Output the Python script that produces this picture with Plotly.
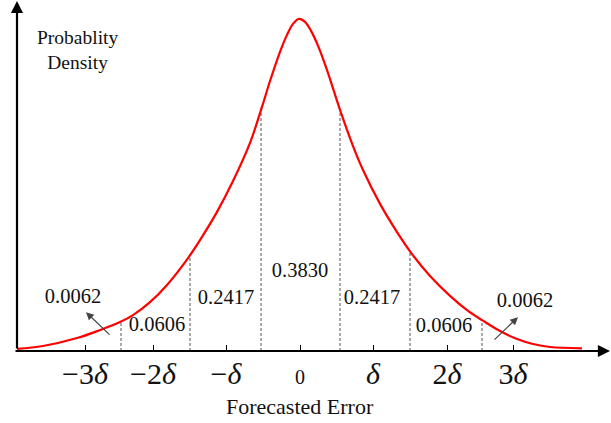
import plotly.graph_objects as go

# Curve (x in units of delta, y relative density, peak = 1)
curve_x = [-3.890, -3.521, -3.055, -2.740, -2.466, -2.288, -2.055, -1.822, -1.534, -1.370,
           -1.137, -0.918, -0.685, -0.521, -0.411, -0.274, -0.178, -0.096, -0.014, 0.068,
           0.151, 0.247, 0.370, 0.548, 0.726, 0.863, 1.096, 1.329, 1.534, 1.781,
           2.055, 2.288, 2.493, 2.740, 2.973, 3.192, 3.425, 3.863]
curve_y = [0.006, 0.015, 0.039, 0.063, 0.087, 0.108, 0.147, 0.199, 0.280, 0.334,
           0.419, 0.512, 0.627, 0.735, 0.813, 0.901, 0.952, 0.985, 1.000, 0.991,
           0.964, 0.919, 0.846, 0.726, 0.617, 0.545, 0.443, 0.358, 0.292, 0.226,
           0.166, 0.123, 0.093, 0.060, 0.036, 0.021, 0.012, 0.008]

# Region boundaries (dashed lines) and their heights
bound_x = [-2.452, -1.507, -0.534, 0.548, 1.507, 2.493]
bound_h = [0.089, 0.289, 0.738, 0.726, 0.298, 0.093]

# Probability labels
prob_text = ["0.0062", "0.0606", "0.2417", "0.3830", "0.2417", "0.0606", "0.0062"]
prob_x = [-3.110, -1.959, -1.014, 0.0, 0.986, 1.973, 3.082]
prob_y = [0.160, 0.075, 0.157, 0.238, 0.157, 0.072, 0.148]

# Tail arrows (head, tail)
arrow_head_x = [-2.932, 2.986]
arrow_head_y = [0.117, 0.102]
arrow_tail_x = [-2.589, 2.644]
arrow_tail_y = [0.045, 0.030]

# Ticks
tick_vals = [-2.945, -2.014, -1.014, 0.0, 1.0, 2.014, 2.918]
tick_text = ["\u22123<i>\u03b4</i>", "\u22122<i>\u03b4</i>", "\u2212<i>\u03b4</i>",
             "<span style='font-size:20px'>0</span>",
             "<i>\u03b4</i>", "2<i>\u03b4</i>", "3<i>\u03b4</i>"]

FONT = "Liberation Serif"

fig = go.Figure()

dx, dy = [], []
for b, h in zip(bound_x, bound_h):
    dx += [b, b, None]
    dy += [0, h, None]
fig.add_trace(go.Scatter(x=dx, y=dy, mode="lines",
                         line=dict(color="#555555", width=1, dash="3px,2px"),
                         hoverinfo="skip", showlegend=False))

fig.add_trace(go.Scatter(x=curve_x, y=curve_y, mode="lines",
                         line=dict(color="#ff0000", width=2.2, shape="spline", smoothing=1.0),
                         showlegend=False))

fig.add_trace(go.Scatter(x=prob_x, y=prob_y, mode="text", text=prob_text,
                         textfont=dict(family=FONT, size=20.5, color="#111111"),
                         textposition="middle center", showlegend=False, hoverinfo="skip"))

annotations = []
for hx, hy, tx, ty in zip(arrow_head_x, arrow_head_y, arrow_tail_x, arrow_tail_y):
    annotations.append(dict(x=hx, y=hy, ax=tx, ay=ty, xref="x", yref="y",
                            axref="x", ayref="y", showarrow=True, arrowhead=2,
                            arrowsize=1.3, arrowwidth=1.2, arrowcolor="#444444", text=""))

# axes with arrows
annotations.append(dict(x=1, y=0, xref="paper", yref="paper", ax=-597, ay=0,
                        showarrow=True, arrowhead=2, arrowsize=1.1, arrowwidth=2.2,
                        arrowcolor="#000000", text="", standoff=0))
annotations.append(dict(x=0, y=1.0, xref="paper", yref="paper", ax=0, ay=350,
                        showarrow=True, arrowhead=2, arrowsize=1.1, arrowwidth=2.2,
                        arrowcolor="#000000", text="", standoff=0))

annotations.append(dict(x=0, y=-0.157, xref="x", yref="paper", text="Forecasted Error",
                        showarrow=False, font=dict(family=FONT, size=22, color="#111111"),
                        xanchor="center", yanchor="middle"))
annotations.append(dict(x=-3.055, y=0.907, xref="x", yref="y", text="Probablity<br>Density",
                        showarrow=False, font=dict(family=FONT, size=19.5, color="#111111"),
                        xanchor="center", yanchor="middle", align="center"))

fig.update_layout(
    width=611, height=423,
    margin=dict(l=17, r=0, t=0, b=72),
    plot_bgcolor="white", paper_bgcolor="white",
    annotations=annotations,
    xaxis=dict(range=[-3.877, 4.260], showgrid=False, zeroline=False, showline=False,
               tickmode="array", tickvals=tick_vals, ticktext=tick_text,
               ticks="inside", ticklen=6, tickwidth=1, tickcolor="#000000",
               tickfont=dict(family=FONT, size=30, color="#111111"),
               ticklabelstandoff=2),
    yaxis=dict(range=[0, 1.057], showgrid=False, zeroline=False, showline=False,
               showticklabels=False, ticks=""),
)

fig.write_html("out.html")
